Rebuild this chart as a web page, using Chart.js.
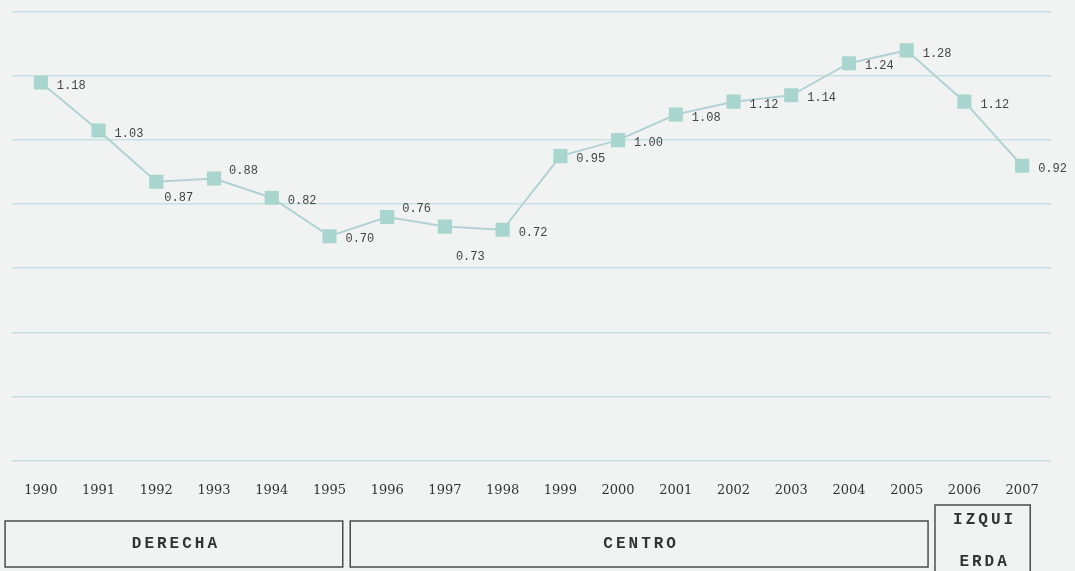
<!DOCTYPE html>
<html>
<head>
<meta charset="utf-8">
<script src="https://cdn.jsdelivr.net/npm/chart.js@4/dist/chart.umd.min.js"></script>
<style>
    html, body { margin: 0; padding: 0; background: #f1f3f3; }
    #caixa { width: 1075px; height: 571px; }
</style>
</head>
<body>
<div id="caixa"><canvas id="graficoIndice"></canvas></div>
<script>
// Dados
const anos = ['1990', '1991', '1992', '1993', '1994', '1995', '1996', '1997', '1998',
              '1999', '2000', '2001', '2002', '2003', '2004', '2005', '2006', '2007'];
const valores = [1.18, 1.03, 0.87, 0.88, 0.82, 0.70, 0.76, 0.73, 0.72,
                 0.95, 1.00, 1.08, 1.12, 1.14, 1.24, 1.28, 1.12, 0.92];
// onde fica o rotulo de cada ponto
const ladoRotulo = ['dir', 'dir', 'baixo', 'cima', 'dir', 'dir', 'cima', 'longe', 'dir',
                    'dir', 'dir', 'dir', 'dir', 'dir', 'dir', 'dir', 'dir', 'dir'];
// periodos politicos
const periodos = ['DERECHA', 'CENTRO', 'IZQUI\nERDA'];
const periodoInicio = [0, 6, 16];
const periodoFim = [5, 15, 17];

// deslocamento dos rotulos (px)
const desloc = {
    dir: [16, 3],
    baixo: [8, 16],
    cima: [15, -8],
    longe: [11, 30]
};

// caixas dos periodos (em fracoes de categoria a partir do inicio/fim)
const bordaCaixa = [[-0.62, 0.23], [-0.64, 0.37], [-0.51, 0.14]];

const rotulosPlugin = {
    id: 'rotulos',
    afterDatasetsDraw(chart) {
        const ctx = chart.ctx;
        const meta = chart.getDatasetMeta(0);
        ctx.save();
        ctx.font = '12px "Liberation Mono", monospace';
        ctx.fillStyle = '#444';
        ctx.textAlign = 'left';
        ctx.textBaseline = 'middle';
        meta.data.forEach((pt, i) => {
            let d = desloc[ladoRotulo[i]];
            ctx.fillText(valores[i].toFixed(2), pt.x + d[0], pt.y + d[1]);
        });
        ctx.restore();
    }
};

const periodosPlugin = {
    id: 'periodos',
    afterDraw(chart) {
        const ctx = chart.ctx;
        const x = chart.scales.x;
        const passo = x.getPixelForValue(1) - x.getPixelForValue(0);
        ctx.save();
        ctx.strokeStyle = '#4b4b4b';
        ctx.lineWidth = 1.5;
        ctx.fillStyle = '#333';
        ctx.font = 'bold 16px "Liberation Mono", monospace';
        ctx.letterSpacing = '3px';
        ctx.textAlign = 'center';
        ctx.textBaseline = 'middle';
        periodos.forEach((nome, i) => {
            let esq = x.getPixelForValue(periodoInicio[i]) + bordaCaixa[i][0] * passo;
            let dir = x.getPixelForValue(periodoFim[i]) + bordaCaixa[i][1] * passo;
            let linhas = nome.split('\n');
            let topo = linhas.length > 1 ? 505 : 521;
            let base = linhas.length > 1 ? 573 : 567;
            ctx.strokeRect(esq, topo, dir - esq, base - topo);
            let meio = (esq + dir) / 2 + 2;
            if (linhas.length > 1) {
                ctx.fillText(linhas[0], meio, 520);
                ctx.fillText(linhas[1], meio, 562);
            } else {
                ctx.fillText(nome, meio, 544);
            }
        });
        ctx.restore();
    }
};

document.addEventListener('DOMContentLoaded', function () {
    let ctx = document.getElementById('graficoIndice').getContext('2d');
    new Chart(ctx, {
        type: 'line',
        data: {
            labels: anos,
            datasets: [{
                data: valores,
                borderColor: '#b3d2d3',
                borderWidth: 2,
                tension: 0,
                pointStyle: 'rect',
                pointRadius: 10,
                pointBackgroundColor: '#a8d6ce',
                pointBorderWidth: 0
            }]
        },
        options: {
            responsive: true,
            maintainAspectRatio: false,
            animation: false,
            layout: { padding: { left: 12, right: 24, top: 12, bottom: 51 } },
            plugins: {
                legend: { display: false },
                tooltip: { enabled: false }
            },
            scales: {
                x: {
                    offset: true,
                    grid: { display: false, drawTicks: false },
                    border: { display: false },
                    ticks: {
                        padding: 22,
                        autoSkip: false,
                        maxRotation: 0,
                        color: '#333',
                        font: { family: 'DejaVu Serif', size: 13 }
                    }
                },
                y: {
                    min: 0,
                    max: 1.4,
                    ticks: { display: false, stepSize: 0.2 },
                    grid: { color: '#c6e0e5', lineWidth: 1.5, drawTicks: false },
                    border: { display: false }
                }
            }
        },
        plugins: [rotulosPlugin, periodosPlugin]
    });
});
</script>
</body>
</html>
